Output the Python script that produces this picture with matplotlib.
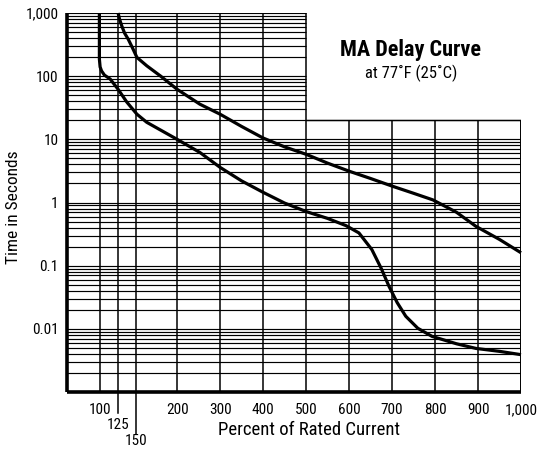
import numpy as np
import matplotlib
matplotlib.use("Agg")
import matplotlib.pyplot as plt
from matplotlib import font_manager

# ---- data ----
lower_x = [99, 99, 99, 100, 102, 106, 114, 125, 137, 151, 163, 200, 253, 300, 350, 400,
           450, 500, 550, 593, 623, 653, 675, 693, 712, 732, 760, 793, 850, 895, 950, 1000]
lower_y = [1000, 400, 186, 140, 121, 104, 90, 62, 39, 25, 18.6, 10, 6.2, 3.6, 2.2, 1.45,
           0.98, 0.72, 0.56, 0.43, 0.33, 0.18, 0.09, 0.047, 0.026, 0.0158, 0.0102, 0.0076,
           0.0058, 0.0049, 0.0044, 0.0039]
upper_x = [125, 127, 130, 134, 139, 145, 151, 163, 180, 200, 253, 300, 350, 400, 450, 500,
           550, 602, 650, 702, 750, 795, 850, 895, 950, 1000]
upper_y = [1000, 800, 628, 480, 386, 280, 198, 146, 100, 62, 36, 25, 16, 10.5, 7.6, 5.8,
           4.2, 3.1, 2.4, 1.8, 1.4, 1.1, 0.7, 0.42, 0.26, 0.16]

x_major = [100, 200, 300, 400, 500, 600, 700, 800, 900, 1000]
x_major_labels = ["100", "200", "300", "400", "500", "600", "700", "800", "900", "1,000"]
x_extra = [125, 150]
x_extra_labels = ["125", "150"]
y_ticks = [0.01, 0.1, 1, 10, 100, 1000]
y_labels = ["0.01", "0.1", "1", "10", "100", "1,000"]

# ---- fonts ----
avail = {f.name for f in font_manager.fontManager.ttflist}
fam = [f for f in ["Liberation Sans Narrow", "Roboto Condensed", "Liberation Sans", "DejaVu Sans"] if f in avail]
plt.rcParams["font.family"] = fam

# non-uniform x scale (piecewise linear, as on the chart paper)
sv = np.array([0, 100, 125, 150, 200, 1000, 2000], dtype=float)
sp = np.array([28, 100, 118, 136, 177, 521, 951], dtype=float)
fwd = lambda x: np.interp(x, sv, sp)
inv = lambda p: np.interp(p, sp, sv)

W, H = 539, 451
fig = plt.figure(figsize=(W / 100, H / 100), dpi=100)
ax = fig.add_axes([67 / W, 1 - 392 / H, (521 - 67) / W, (392 - 13) / H])
ax.set_xscale("function", functions=(fwd, inv))
ax.set_yscale("log")
xmin = 54
ax.set_xlim(xmin, 1000)
ax.set_ylim(0.001, 1000)
for s in ax.spines.values():
    s.set_visible(False)

# grid (L-shaped region)
step = 20
hvals = [m * 10.0 ** e for e in range(-3, 3) for m in range(1, 10)] + [1000]
for v in hvals:
    xr = 1000 if v <= step else 500
    ax.hlines(v, xmin, xr, color="black", lw=0.85, zorder=1)
ax.hlines(step, 500, 1000, color="black", lw=1.0, zorder=1)
for v in x_major + x_extra:
    top = 1000 if v <= 500 else step
    ax.vlines(v, 0.001, top, color="black", lw=1.1, zorder=1)
ax.vlines(1000, 0.001, step, color="black", lw=1.3, zorder=1)

# thick axes
ax.vlines(xmin, 0.001, 1000, color="black", lw=2.6, zorder=3, clip_on=False)
ax.hlines(0.001, xmin, 1000, color="black", lw=2.6, zorder=3, clip_on=False)

# curves
ax.plot(lower_x, lower_y, color="black", lw=2.3, zorder=4, solid_capstyle="butt",
        solid_joinstyle="round", clip_on=False)
ax.plot(upper_x, upper_y, color="black", lw=2.3, zorder=4, solid_capstyle="butt",
        solid_joinstyle="round", clip_on=False)

# ticks
ax.set_xticks(x_major)
ax.set_xticklabels(x_major_labels)
ax.xaxis.set_minor_locator(matplotlib.ticker.NullLocator())
ax.set_yticks(y_ticks)
ax.set_yticklabels(y_labels)
ax.yaxis.set_minor_locator(matplotlib.ticker.NullLocator())
ax.tick_params(axis="both", length=0, labelsize=11)
ax.tick_params(axis="x", pad=8)
ax.tick_params(axis="y", pad=6)

# extra 125/150 ticks extending below axis
trans = ax.get_xaxis_transform()
ext_len = [-21 / 379, -42 / 379]
ext_py = [425, 441]
for v, lab, yb, py in zip(x_extra, x_extra_labels, ext_len, ext_py):
    ax.plot([v, v], [0, yb], transform=trans, color="black", lw=1.1, clip_on=False)
    fig.text(fwd(v) / W, 1 - py / H, lab, ha="center", va="center", fontsize=11)

# labels
fig.text(309 / W, 1 - 430 / H, "Percent of Rated Current", ha="center", va="center", fontsize=13.5)
fig.text(14 / W, 1 - 207 / H, "Time in Seconds", ha="center", va="center", rotation=90, fontsize=12.5)
fig.text(411 / W, 1 - 50 / H, "MA Delay Curve", ha="center", va="center", fontsize=16, fontweight="bold")
fig.text(411 / W, 1 - 73 / H, "at 77\u02daF (25\u02daC)", ha="center", va="center", fontsize=12)

fig.savefig("out.png", dpi=100)
